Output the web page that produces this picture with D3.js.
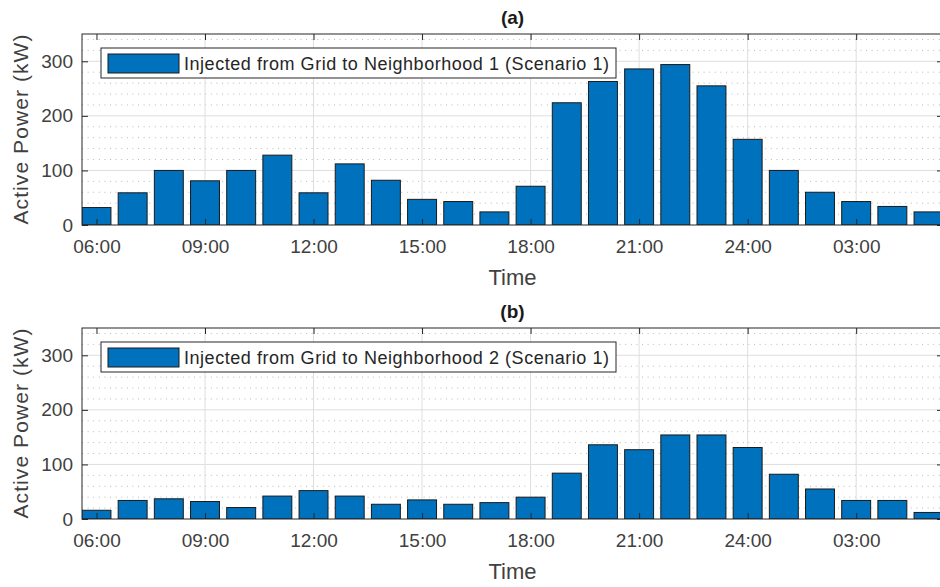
<!DOCTYPE html>
<html>
<head>
<meta charset="utf-8">
<script src="https://cdn.jsdelivr.net/npm/d3@7"></script>
<style>
  body { margin: 0; background: #fff; }
  svg { display: block; font-family: "Liberation Sans", Arial, sans-serif; }
</style>
</head>
<body>
<div id="chart"></div>
<script>
// hours of the day, 06:00 .. 05:00 next day (24 = midnight)
const hours = d3.range(6, 30);
const xTicks = [6, 9, 12, 15, 18, 21, 24, 27];
const yTicks = [0, 100, 200, 300];

const neighborhood1 = [32, 59, 100, 81, 100, 128, 59, 112, 82, 47, 43, 24,
                       71, 224, 263, 286, 294, 255, 157, 100, 60, 43, 34, 24];
const neighborhood2 = [16, 34, 37, 32, 21, 42, 52, 42, 27, 35, 27, 30,
                       40, 84, 136, 127, 154, 154, 131, 82, 55, 34, 34, 12];

const panels = [
    {title: "(a)", label: "Injected from Grid to Neighborhood 1 (Scenario 1)", values: neighborhood1, top: 34},
    {title: "(b)", label: "Injected from Grid to Neighborhood 2 (Scenario 1)", values: neighborhood2, top: 328}
];

const width = 940, height = 587;
const axisColor = "#262626";
const barColor = "#0072bd";

const svg = d3.select("#chart").append("svg")
    .attr("width", width)
    .attr("height", height);

const plotLeft = 82, plotRight = 943, plotH = 191;

const x = d3.scaleLinear()
    .domain([5.6, 29.4])
    .range([plotLeft, plotRight]);

const barW = x(6.4) - x(5.6);

function fmtHour(h) {
    let v = h > 24 ? h - 24 : h;
    return (v < 10 ? "0" : "") + v + ":00";
}

panels.forEach(p => {
    let y = d3.scaleLinear()
        .domain([0, 350])
        .range([p.top + plotH, p.top]);

    let g = svg.append("g");

    let clip = "clip" + p.title.replace(/\W/g, "");
    svg.append("clipPath").attr("id", clip)
        .append("rect")
        .attr("x", plotLeft).attr("y", p.top)
        .attr("width", plotRight - plotLeft).attr("height", plotH);

    // minor dotted grid every 20
    g.selectAll(".minor")
        .data(d3.range(20, 350, 20).filter(v => v % 100 !== 0))
        .enter().append("line")
        .attr("x1", plotLeft).attr("x2", plotRight)
        .attr("y1", d => y(d)).attr("y2", d => y(d))
        .attr("stroke", "#b8b8b8")
        .attr("stroke-width", 1)
        .attr("stroke-dasharray", "1,4.6");

    // major grid
    g.selectAll(".gy")
        .data(yTicks.slice(1))
        .enter().append("line")
        .attr("x1", plotLeft).attr("x2", plotRight)
        .attr("y1", d => y(d)).attr("y2", d => y(d))
        .attr("stroke", "#dedede");

    g.selectAll(".gx")
        .data(xTicks.slice(1))
        .enter().append("line")
        .attr("x1", d => x(d)).attr("x2", d => x(d))
        .attr("y1", p.top).attr("y2", p.top + plotH)
        .attr("stroke", "#dedede");

    // bars
    g.append("g").attr("clip-path", `url(#${clip})`)
        .selectAll("rect")
        .data(p.values)
        .enter().append("rect")
        .attr("x", (d, i) => x(hours[i]) - barW / 2)
        .attr("y", d => y(d))
        .attr("width", barW)
        .attr("height", d => y(0) - y(d))
        .attr("fill", barColor)
        .attr("stroke", "#1a1a1a")
        .attr("stroke-width", 1);

    // axes: bottom / left with inward ticks
    let xAxis = d3.axisBottom(x).tickValues(xTicks).tickFormat(fmtHour).tickSizeInner(-6).tickSizeOuter(0).tickPadding(15);
    g.append("g").attr("transform", `translate(0,${y(0)})`).call(xAxis);

    let yAxis = d3.axisLeft(y).tickValues(yTicks).tickSizeInner(-6).tickSizeOuter(0).tickPadding(9);
    g.append("g").attr("transform", `translate(${plotLeft},0)`).call(yAxis);

    // top & right ticks
    g.append("g").attr("transform", `translate(0,${p.top})`)
        .call(d3.axisTop(x).tickValues(xTicks).tickFormat("").tickSizeInner(-6).tickSizeOuter(0));
    g.append("g").attr("transform", `translate(${plotRight},0)`)
        .call(d3.axisRight(y).tickValues(yTicks).tickFormat("").tickSizeInner(-6).tickSizeOuter(0));

    g.selectAll(".domain").remove();
    g.selectAll(".tick line").attr("stroke", axisColor);
    g.selectAll(".tick text").attr("fill", "#404040").style("font-size", "19px");

    // box
    g.append("rect")
        .attr("x", plotLeft).attr("y", p.top)
        .attr("width", plotRight - plotLeft).attr("height", plotH)
        .attr("fill", "none")
        .attr("stroke", axisColor)
        .attr("stroke-width", 1);

    // legend
    let lg = g.append("g").attr("transform", `translate(101,${p.top + 14})`);
    lg.append("rect")
        .attr("width", 515).attr("height", 30)
        .attr("fill", "#fff")
        .attr("stroke", axisColor);
    lg.append("rect")
        .attr("x", 7).attr("y", 6)
        .attr("width", 71).attr("height", 19)
        .attr("fill", barColor)
        .attr("stroke", "#1a1a1a");
    lg.append("text")
        .attr("x", 83).attr("y", 22)
        .attr("fill", "#262626")
        .attr("textLength", 425)
        .style("font-size", "18px")
        .text(p.label);

    // title
    g.append("text")
        .attr("x", (plotLeft + plotRight) / 2)
        .attr("y", p.top - 10)
        .attr("text-anchor", "middle")
        .attr("font-weight", "bold")
        .attr("fill", "#1a1a1a")
        .style("font-size", "19px")
        .text(p.title);

    // axis labels
    g.append("text")
        .attr("x", (plotLeft + plotRight) / 2)
        .attr("y", p.top + plotH + 60)
        .attr("text-anchor", "middle")
        .attr("fill", "#404040")
        .style("font-size", "22px")
        .text("Time");

    g.append("text")
        .attr("transform", `translate(28,${p.top + plotH / 2}) rotate(-90)`)
        .attr("text-anchor", "middle")
        .attr("fill", "#404040")
        .attr("textLength", 190)
        .style("font-size", "21px")
        .text("Active Power (kW)");
});
</script>
</body>
</html>
